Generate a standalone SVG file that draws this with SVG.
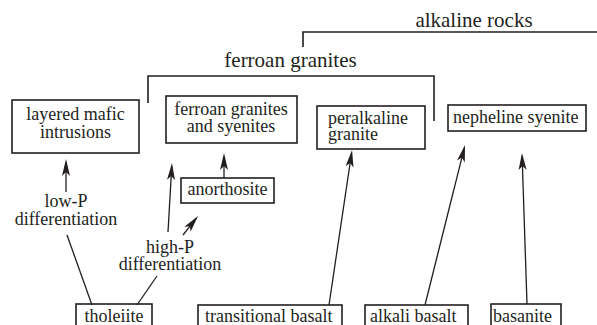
<svg xmlns="http://www.w3.org/2000/svg" width="597" height="325" viewBox="0 0 597 325">
<defs>
<style>
text{font-family:"Liberation Serif","Times New Roman",serif;font-size:18px;fill:#231f20}
.big{font-size:21px}
.box{fill:#fff;stroke:#231f20;stroke-width:1.6}
.ln{fill:none;stroke:#231f20;stroke-width:1.3}
.br{fill:none;stroke:#231f20;stroke-width:1.6}
.c{text-anchor:middle}
</style>
<marker id="ah" markerUnits="userSpaceOnUse" markerWidth="20" markerHeight="10" refX="0" refY="0" orient="auto" overflow="visible">
<path d="M3,0 L-14,-4 L-10,0 L-14,4 Z" fill="#231f20"/>
</marker>
</defs>
<g id="bracket-alkaline">
<path class="br" d="M303,47 V32 H598"/>
<text class="big c" x="474" y="27">alkaline rocks</text>
</g>
<g id="bracket-ferroan">
<path class="br" d="M148,103 V76 H434 V121"/>
<text class="big c" x="290.5" y="67">ferroan granites</text>
</g>
<g id="layered">
<rect class="box" x="12" y="100" width="127" height="53"/>
<text class="c" x="75.5" y="120">layered mafic</text>
<text class="c" x="75.5" y="138">intrusions</text>
</g>
<g id="ferroan">
<rect class="box" x="166" y="96" width="131" height="47"/>
<text class="c" x="231" y="115">ferroan granites</text>
<text class="c" x="231" y="132">and syenites</text>
</g>
<g id="peralkaline">
<rect class="box" x="317" y="106" width="108" height="43"/>
<text x="328" y="124">peralkaline</text>
<text x="328" y="140">granite</text>
</g>
<g id="nepheline">
<rect class="box" x="448" y="105" width="138" height="26"/>
<text x="453" y="123">nepheline syenite</text>
</g>
<g id="anorthosite">
<rect class="box" x="181" y="178" width="93" height="25"/>
<text class="c" x="227.5" y="195">anorthosite</text>
</g>
<g id="lowP">
<text class="c" x="66" y="207">low-P</text>
<text class="c" x="66" y="225">differentiation</text>
</g>
<g id="highP">
<text class="c" x="170" y="253">high-P</text>
<text class="c" x="170" y="270">differentiation</text>
</g>
<g id="tholeiite">
<rect class="box" x="76" y="304" width="76" height="30"/>
<text class="c" x="114" y="322">tholeiite</text>
</g>
<g id="transitional">
<rect class="box" x="198" y="305" width="144" height="30"/>
<text x="205" y="322">transitional basalt</text>
</g>
<g id="alkali">
<rect class="box" x="365" y="305" width="103" height="30"/>
<text x="370" y="322">alkali basalt</text>
</g>
<g id="basanite">
<rect class="box" x="491" y="304" width="70" height="30"/>
<text x="493" y="322">basanite</text>
</g>
<g id="connectors">
<line class="ln" x1="92" y1="305" x2="67" y2="235"/>
<line class="ln" x1="66" y1="192" x2="66" y2="162" marker-end="url(#ah)"/>
<line class="ln" x1="137" y1="305" x2="157" y2="276"/>
<line class="ln" x1="168" y1="232" x2="171.8" y2="166" marker-end="url(#ah)"/>
<line class="ln" x1="183" y1="235" x2="196.2" y2="218.4" marker-end="url(#ah)"/>
<line class="ln" x1="224" y1="178" x2="224" y2="156" marker-end="url(#ah)"/>
<line class="ln" x1="329" y1="305" x2="351.6" y2="153" marker-end="url(#ah)"/>
<line class="ln" x1="425" y1="305" x2="464.3" y2="147.9" marker-end="url(#ah)"/>
<line class="ln" x1="527" y1="304" x2="522.1" y2="156" marker-end="url(#ah)"/>
</g>
</svg>
